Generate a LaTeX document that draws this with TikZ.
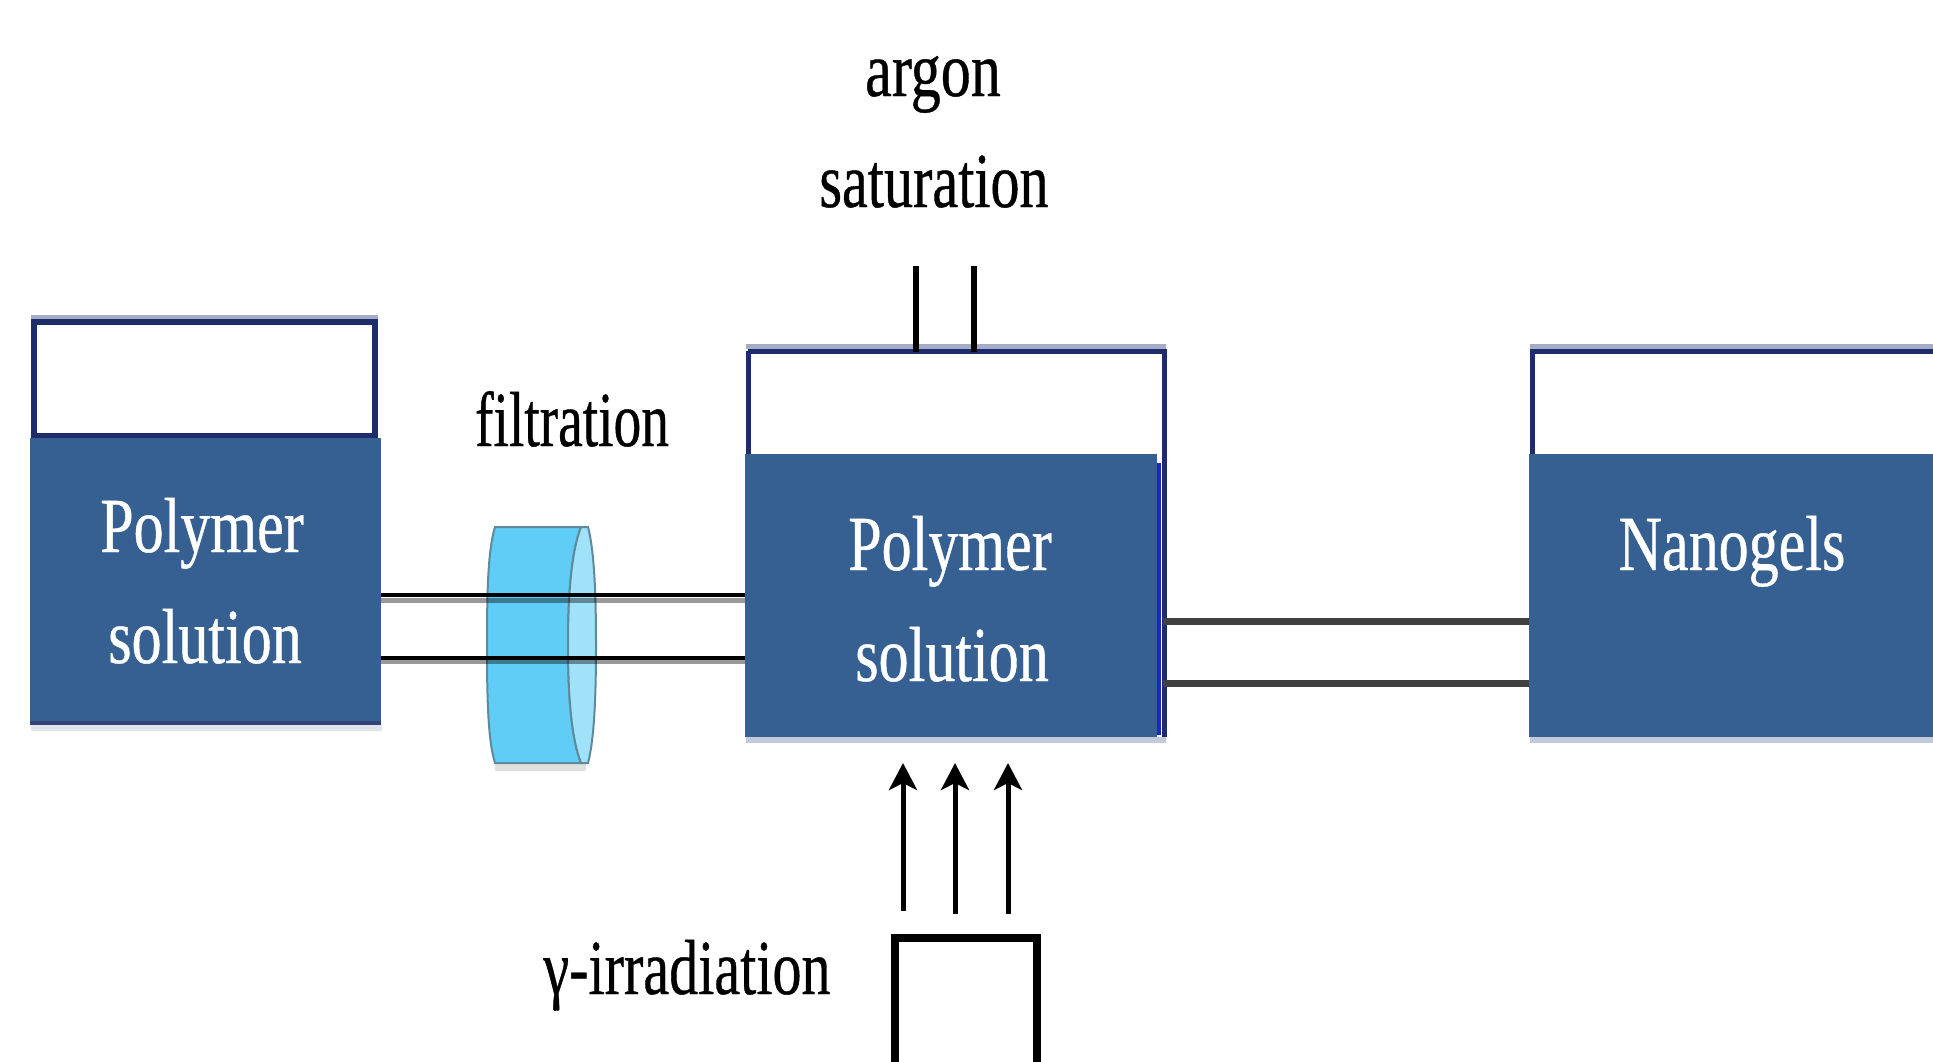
\documentclass[tikz,border=0pt]{standalone}
\usepackage{fontspec}
\usetikzlibrary{arrows.meta}
\newfontfamily\narrowserif[FakeStretch=0.77,FakeBold=0.5]{Liberation Serif}
\newfontfamily\tighterserif[FakeStretch=0.745,FakeBold=0.5]{Liberation Serif}
\newfontfamily\tightestserif[FakeStretch=0.71,FakeBold=0.5]{Liberation Serif}
\definecolor{fluidblue}{HTML}{366092}
\definecolor{tanknavy}{HTML}{1F2C6B}
\definecolor{topshade}{HTML}{A6ACC6}
\definecolor{lowshade}{HTML}{C3C8DB}
\definecolor{filtermain}{HTML}{5FCDF5}
\definecolor{filterside}{HTML}{A0E2FA}
\definecolor{filteredge}{HTML}{5F8A9C}
\tikzset{
  x=1pt,y=-1pt,
  lab/.style={anchor=base,inner sep=0pt,font=\narrowserif\fontsize{78}{90}\selectfont},
  labtight/.style={anchor=base,inner sep=0pt,font=\tighterserif\fontsize{78}{90}\selectfont},
  labtightest/.style={anchor=base,inner sep=0pt,font=\tightestserif\fontsize{78}{90}\selectfont},
  fluidlab/.style={lab,text=white},
  tankline/.style={draw=tanknavy,line width=5pt,line join=miter},
  fluid/.style={fill=fluidblue,draw=none},
  pipe/.style={draw=black,line width=4pt},
  pipeshade/.style={draw=black,opacity=.4,line width=5pt},
  darkpipe/.style={draw=black!75,line width=7pt},
  stem/.style={draw=black,line width=6pt},
  ray/.style={draw=black,line width=5pt,-{Stealth[width=28pt,length=27pt,inset=7pt]}},
  source/.style={draw=black,line width=8pt,line join=miter}
}
\begin{document}
\begin{tikzpicture}
\useasboundingbox (0,0) rectangle (1933,1061);
\fill[white] (0,0) rectangle (1933,1061);
% left tank
\fill[topshade] (31,315) rectangle (378,321);
\fill[lowshade!50] (31,725) rectangle (382,731);
\draw[tankline,line width=6pt] (34,322) rectangle (375,436);
\fill[fluid] (30,438) rectangle (381,725);
\fill[tanknavy!90] (30,721) rectangle (381,725);
\coordinate (lefttank) at (381,580);
% middle tank
\fill[topshade] (746,344) rectangle (1166,349);
\fill[lowshade] (746,737) rectangle (1166,743);
\draw[tankline] (748,351) -- (1164,351) -- (1164,737);
\draw[tankline] (748,351) -- (748,455);
\fill[fluid] (745,454) rectangle (1157,737);
\fill[blue!60!fluidblue] (1157,463) rectangle (1161,735);
\coordinate (midtank) at (745,580);
\coordinate (midtankR) at (1163,620);
% right tank
\fill[topshade] (1530,344) rectangle (1933,349);
\fill[lowshade] (1530,737) rectangle (1933,743);
\draw[tankline] (1933,351) -- (1532,351) -- (1532,455);
\fill[fluid] (1529,454) rectangle (1933,737);
\coordinate (righttank) at (1529,620);
% filter
\fill[black!12] (495,763) rectangle (586,771);
\path[fill=filtermain,draw=filteredge,line width=2pt]
  (495,527) .. controls (488,550) and (487,590) .. (487,645)
  .. controls (487,700) and (488,740) .. (495,763) -- (581,763)
  .. controls (572,740) and (568,700) .. (568,645)
  .. controls (568,590) and (572,550) .. (581,527) -- cycle;
\path[fill=filterside,draw=filteredge,line width=2pt]
  (581,527) -- (588,527) .. controls (594,550) and (596,590) .. (596,645)
  .. controls (596,700) and (594,740) .. (588,763) -- (581,763)
  .. controls (572,740) and (568,700) .. (568,645)
  .. controls (568,590) and (572,550) .. (581,527) -- cycle;
% connectors
\coordinate (py1) at (0,595);\coordinate (py2) at (0,658);
\coordinate (py3) at (0,621);\coordinate (py4) at (0,683);
\coordinate (ps1) at (0,600);\coordinate (ps2) at (0,661);
\draw[pipeshade] (lefttank |- ps1) -- (midtank |- ps1);
\draw[pipeshade] (lefttank |- ps2) -- (midtank |- ps2);
\draw[pipe] (lefttank |- py1) -- (midtank |- py1);
\draw[pipe] (lefttank |- py2) -- (midtank |- py2);
\draw[darkpipe] (midtankR |- py3) -- (righttank |- py3);
\draw[darkpipe] (midtankR |- py4) -- (righttank |- py4);
% argon stems
\coordinate (st1) at (916,266);\coordinate (st2) at (974,266);
\coordinate (sb1) at (916,352);\coordinate (sb2) at (974,352);
\draw[stem] (st1) -- (sb1);
\draw[stem] (st2) -- (sb2);
% radiation source and rays
\coordinate (r1a) at (903,911);\coordinate (r1b) at (903,763);
\coordinate (r2a) at (955,914);\coordinate (r2b) at (955,763);
\coordinate (r3a) at (1008,914);\coordinate (r3b) at (1008,763);
\draw[ray] (r1a) -- (r1b);
\draw[ray] (r2a) -- (r2b);
\draw[ray] (r3a) -- (r3b);
\draw[source] (895,1070) -- (895,938) -- (1037,938) -- (1037,1070);
% labels
\node[lab] (argon) at (933,96) {argon};
\node[labtight] (saturation) at (934,207) {saturation};
\node[labtightest] (filtration) at (572,446) {filtration};
\node[labtight] (irradiation) at (687,994) {γ-irradiation};
\node[fluidlab] (p1) at (202,552) {Polymer};
\node[fluidlab] (s1) at (205,663) {solution};
\node[fluidlab] (p2) at (950,570) {Polymer};
\node[fluidlab] (s2) at (952,681) {solution};
\node[fluidlab] (nano) at (1732,570) {Nanogels};
\end{tikzpicture}
\end{document}
